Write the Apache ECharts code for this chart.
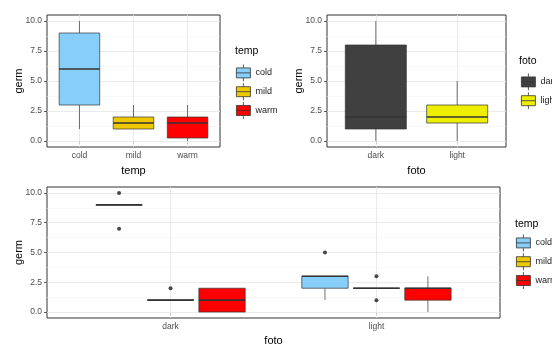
<!DOCTYPE html>
<html>
<head>
<meta charset="utf-8">
<script src="https://cdn.jsdelivr.net/npm/echarts@6/dist/echarts.min.js"></script>
<style>
  html, body { margin: 0; padding: 0; background: #ffffff; }
  #chart { width: 552px; height: 345px; }
</style>
</head>
<body>
<div id="chart"></div>
<script>
// Factor levels
const tempLevels = ['cold', 'mild', 'warm'];
const fotoLevels = ['dark', 'light'];

// Five-number summaries of germ: [min, Q1, median, Q3, max]
const germByTemp = [[1, 3, 6, 9, 10], [1, 1, 1.5, 2, 3], [0, 0.25, 1.5, 2, 3]];
const germByFoto = [[0, 1, 2, 8, 10], [0, 1.5, 2, 3, 5]];

// germ by foto (dark, light) within each temp level
const germFotoCold = [[9, 9, 9, 9, 9], [1, 2, 3, 3, 3]];
const germFotoMild = [[1, 1, 1, 1, 1], [2, 2, 2, 2, 2]];
const germFotoWarm = [[0, 0, 1, 2, 2], [0, 1, 2, 2, 3]];

// Outlying germ values by foto (dark, light) within each temp level
const outFotoCold = [[10, 7], [5]];
const outFotoMild = [[2], [3, 1]];
const outFotoWarm = [[], []];

// Y axis ticks
const yTicks = [0, 2.5, 5, 7.5, 10];
const yMinorTicks = [1.25, 3.75, 6.25, 8.75];

const tempFill = { cold: '#87CEFA', mild: '#EEC900', warm: '#FF0000' };
const fotoFill = { dark: '#404040', light: '#EEEE00' };

const FONT = '"Liberation Sans", Arial, sans-serif';
const INK = '#333333';
// legend key: a small box with whisker stubs and a median bar
const BOX_ICON = 'path://M0,3.5 L14,3.5 L14,13.5 L0,13.5 Z M7,0 L7,3.5 M7,13.5 L7,17 M0,8.5 L14,8.5';

const chart = echarts.init(document.getElementById('chart'), null, { renderer: 'canvas' });

// Draws one box: whiskers, box body, and a thicker median bar
function boxRenderer(boxWidth) {
  return function (params, api) {
    const x = api.value(0);
    const lo = api.coord([x, api.value(1)]);
    const q1 = api.coord([x, api.value(2)]);
    const md = api.coord([x, api.value(3)]);
    const q3 = api.coord([x, api.value(4)]);
    const hi = api.coord([x, api.value(5)]);
    const w = api.size([boxWidth, 0])[0];
    const fill = api.visual('color');
    return {
      type: 'group',
      children: [
        { type: 'line', shape: { x1: q3[0], y1: q3[1], x2: hi[0], y2: hi[1] }, style: { stroke: INK, lineWidth: 0.7 } },
        { type: 'line', shape: { x1: lo[0], y1: lo[1], x2: q1[0], y2: q1[1] }, style: { stroke: INK, lineWidth: 0.7 } },
        { type: 'rect', shape: { x: q1[0] - w / 2, y: q3[1], width: w, height: q1[1] - q3[1] }, style: { fill: fill, stroke: INK, lineWidth: 0.7 } },
        { type: 'line', shape: { x1: md[0] - w / 2, y1: md[1], x2: md[0] + w / 2, y2: md[1] }, style: { stroke: INK, lineWidth: 1.6 } }
      ]
    };
  };
}

function xAxisFor(gridIndex, levels, name, nameGap) {
  const at = levels.map((_, i) => i + 1);
  return {
    type: 'value', gridIndex: gridIndex, min: 0.4, max: levels.length + 0.6,
    name: name, nameLocation: 'middle', nameGap: nameGap, nameMoveOverlap: false,
    nameTextStyle: { fontSize: 11, color: '#000000', fontFamily: FONT },
    axisLine: { show: false },
    axisTick: { show: true, customValues: at, length: 3, lineStyle: { color: INK, width: 0.8 } },
    axisLabel: { customValues: at, formatter: v => levels[Math.round(v) - 1], fontSize: 8.5, color: '#4d4d4d', margin: 4, fontFamily: FONT },
    splitLine: { show: false }
  };
}

function yAxisFor(gridIndex, nameGap) {
  return {
    type: 'value', gridIndex: gridIndex, min: -0.5, max: 10.5,
    name: 'germ', nameLocation: 'middle', nameGap: nameGap, nameMoveOverlap: false,
    nameTextStyle: { fontSize: 11, color: '#000000', fontFamily: FONT },
    axisLine: { show: false },
    axisTick: { show: true, customValues: yTicks, length: 3, lineStyle: { color: INK, width: 0.8 } },
    axisLabel: { customValues: yTicks, formatter: v => v.toFixed(1), fontSize: 8.5, color: '#4d4d4d', margin: 5, fontFamily: FONT },
    splitLine: { show: false }
  };
}

// Panel grid lines (major + minor) drawn behind the boxes
function gridLines(gridIndex, nLevels) {
  const xs = Array.from({ length: nLevels }, (_, i) => i + 1);
  const minor = { color: '#f2f2f2', width: 0.6, type: 'solid' };
  const major = { color: '#e4e4e4', width: 0.8, type: 'solid' };
  return {
    type: 'line', name: 'panel-grid', xAxisIndex: gridIndex, yAxisIndex: gridIndex,
    data: [], silent: true, z: 1,
    markLine: {
      silent: true, animation: false, symbol: ['none', 'none'], label: { show: false },
      emphasis: { disabled: true },
      data: [
        ...yMinorTicks.map(v => ({ yAxis: v, lineStyle: minor })),
        ...yTicks.map(v => ({ yAxis: v, lineStyle: major })),
        ...xs.map(v => ({ xAxis: v, lineStyle: major }))
      ]
    }
  };
}

function boxSeries(name, gridIndex, fill, rows, boxWidth) {
  return {
    type: 'custom', name: name, xAxisIndex: gridIndex, yAxisIndex: gridIndex, z: 5,
    itemStyle: { color: fill, borderColor: INK },
    renderItem: boxRenderer(boxWidth),
    encode: { x: 0, y: [1, 2, 3, 4, 5] },
    data: rows
  };
}

function outlierSeries(gridIndex, points) {
  return {
    type: 'scatter', name: 'outliers', xAxisIndex: gridIndex, yAxisIndex: gridIndex, z: 6,
    symbolSize: 4, itemStyle: { color: '#1a1a1a' }, silent: true,
    data: points
  };
}

const series = [gridLines(0, 3), gridLines(1, 2), gridLines(2, 2)];

// Panel 1: germ by temp
tempLevels.forEach((t, i) => {
  series.push(boxSeries(t, 0, tempFill[t], [[i + 1, ...germByTemp[i]]], 0.75));
});

// Panel 2: germ by foto
fotoLevels.forEach((f, i) => {
  series.push(boxSeries(f, 1, fotoFill[f], [[i + 1, ...germByFoto[i]]], 0.75));
});

// Panel 3: germ by foto, dodged by temp
const byTemp = { cold: [germFotoCold, outFotoCold], mild: [germFotoMild, outFotoMild], warm: [germFotoWarm, outFotoWarm] };
const dodge = { cold: -0.25, mild: 0, warm: 0.25 };
const outPts = [];
tempLevels.forEach(t => {
  const [stats, outs] = byTemp[t];
  const rows = fotoLevels.map((f, j) => [j + 1 + dodge[t], ...stats[j]]);
  series.push(boxSeries(t, 2, tempFill[t], rows, 0.225));
  fotoLevels.forEach((f, j) => outs[j].forEach(v => outPts.push([j + 1 + dodge[t], v])));
});
series.push(outlierSeries(2, outPts));

const legendBase = {
  orient: 'vertical', padding: 0, itemWidth: 14, itemHeight: 17, itemGap: 1,
  icon: BOX_ICON, selectedMode: false,
  itemStyle: { borderColor: INK, borderWidth: 0.8 },
  textStyle: { fontSize: 9, color: '#1a1a1a', fontFamily: FONT, padding: [0, 0, 0, 0] }
};

const titleStyle = { fontSize: 10.5, fontWeight: 'normal', color: '#000000', fontFamily: FONT };

const gridBase = { show: true, borderColor: INK, borderWidth: 1, backgroundColor: '#ffffff', containLabel: false, outerBoundsMode: 'none' };

chart.setOption({
  animation: false,
  backgroundColor: '#ffffff',
  textStyle: { fontFamily: FONT },
  title: [
    { text: 'temp', left: 235, top: 46, padding: 0, textStyle: titleStyle },
    { text: 'foto', left: 519, top: 56, padding: 0, textStyle: titleStyle },
    { text: 'temp', left: 515, top: 219, padding: 0, textStyle: titleStyle }
  ],
  legend: [
    Object.assign({}, legendBase, { data: tempLevels, left: 236, top: 64 }),
    Object.assign({}, legendBase, { data: fotoLevels, left: 521, top: 73 }),
    Object.assign({}, legendBase, { data: tempLevels, left: 516, top: 234 })
  ],
  grid: [
    Object.assign({ left: 47, top: 15, width: 173, height: 132 }, gridBase),
    Object.assign({ left: 327, top: 15, width: 179, height: 132 }, gridBase),
    Object.assign({ left: 47, top: 187, width: 453, height: 131 }, gridBase)
  ],
  xAxis: [
    xAxisFor(0, tempLevels, 'temp', 18),
    xAxisFor(1, fotoLevels, 'foto', 18),
    xAxisFor(2, fotoLevels, 'foto', 17)
  ],
  yAxis: [yAxisFor(0, 23), yAxisFor(1, 23), yAxisFor(2, 23)],
  series: series
});
</script>
</body>
</html>
